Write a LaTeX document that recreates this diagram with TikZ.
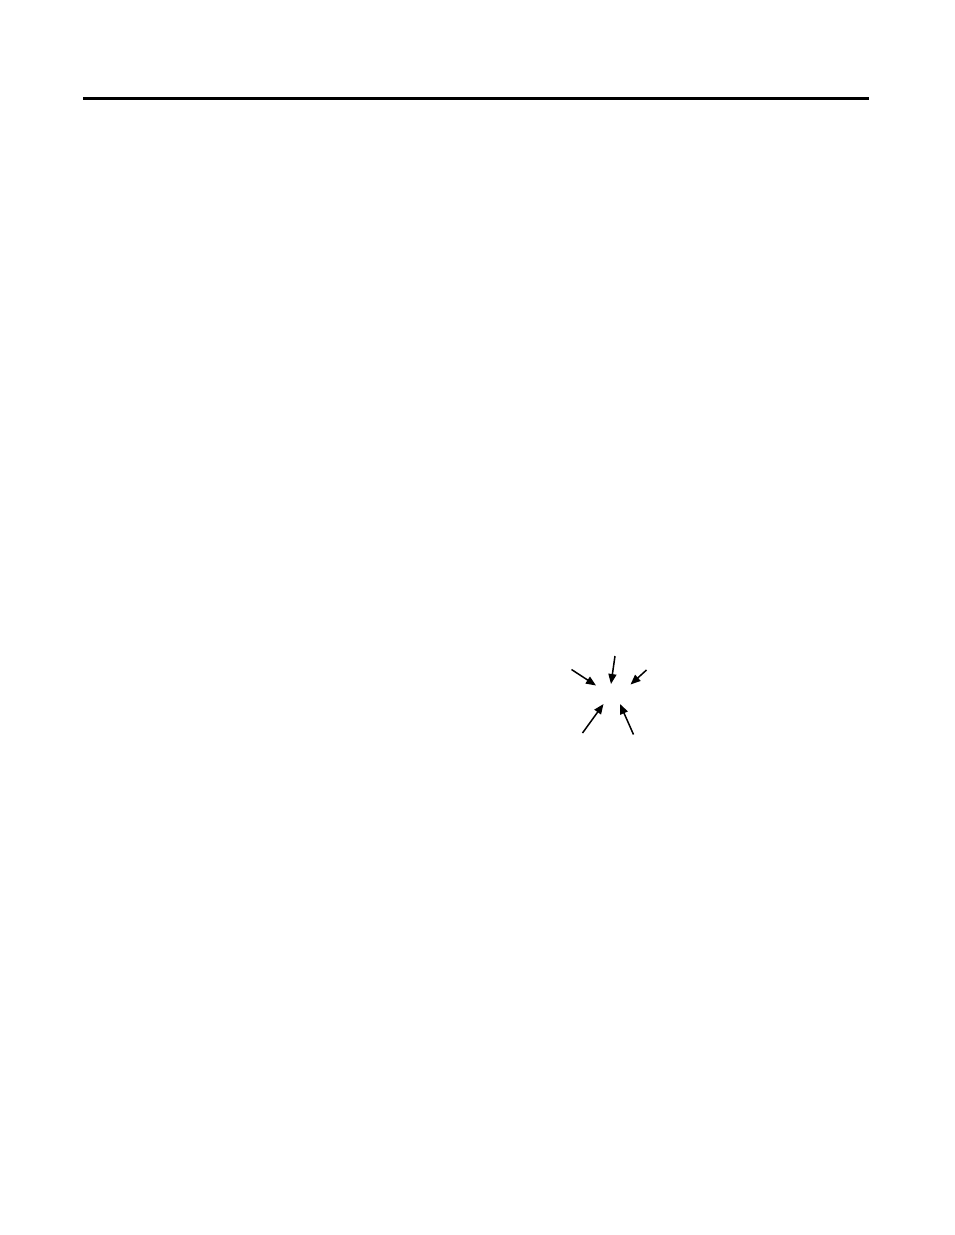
\documentclass[tikz,border=0pt]{standalone}
\usetikzlibrary{arrows.meta}
\begin{document}
\begin{tikzpicture}[x=1pt,y=-1pt,
  rule/.style={line width=3pt},
  ptr/.style={line width=1.5pt,-{Triangle[length=10pt,width=8pt]}}]
\useasboundingbox (0,0) rectangle (954,1235);
\coordinate (l1) at (83,98.5);
\coordinate (l2) at (869,98.5);
\draw[rule] (l1) -- (l2);
\coordinate (a1s) at (571.5,669.5); \coordinate (a1e) at (596,685.5);
\coordinate (a2s) at (615,656);     \coordinate (a2e) at (611,684);
\coordinate (a3s) at (646.5,670);   \coordinate (a3e) at (630.5,684.5);
\coordinate (a4s) at (582.5,733);   \coordinate (a4e) at (603.5,704);
\coordinate (a5s) at (633.5,734.5); \coordinate (a5e) at (620,704);
\draw[ptr] (a1s) -- (a1e);
\draw[ptr] (a2s) -- (a2e);
\draw[ptr] (a3s) -- (a3e);
\draw[ptr] (a4s) -- (a4e);
\draw[ptr] (a5s) -- (a5e);
\end{tikzpicture}
\end{document}
